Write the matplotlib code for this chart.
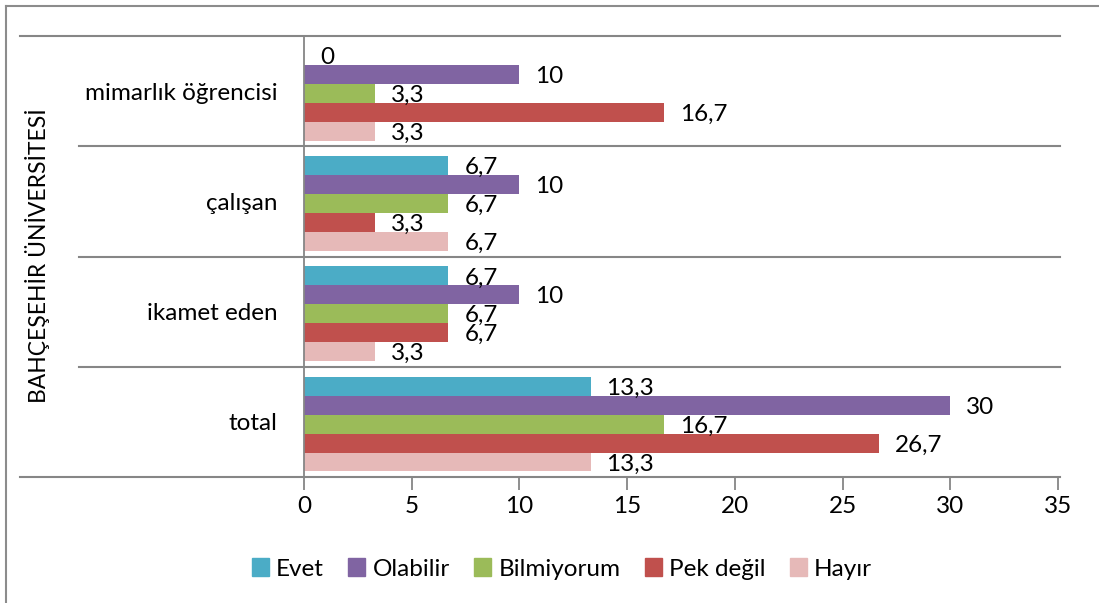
import matplotlib.pyplot as plt
from matplotlib.lines import Line2D
from matplotlib.patches import Patch
import matplotlib.transforms as mtransforms

plt.rcParams['font.family'] = ['Lato', 'DejaVu Sans']

categories = ['total', 'ikamet eden', 'çalışan', 'mimarlık öğrencisi']
series = ['Evet', 'Olabilir', 'Bilmiyorum', 'Pek değil', 'Hayır']
colors = ['#4BACC6', '#8064A2', '#9BBB59', '#C0504D', '#E6B9B8']
evet = [13.3, 6.7, 6.7, 0]
olabilir = [30, 10, 10, 10]
bilmiyorum = [16.7, 6.7, 6.7, 3.3]
pek_degil = [26.7, 6.7, 3.3, 16.7]
hayir = [13.3, 3.3, 6.7, 3.3]
values = [evet, olabilir, bilmiyorum, pek_degil, hayir]
group_label = 'BAHÇEŞEHİR ÜNİVERSİTESİ'

W, H = 1099, 603
fig = plt.figure(figsize=(W / 100, H / 100), dpi=100)
x0, x1, y0, y1 = 304, 1058, 36, 477
ax = fig.add_axes([x0 / W, 1 - y1 / H, (x1 - x0) / W, (y1 - y0) / H])

fs = 17.5
h = 0.172
grid_c = '#868686'
for i, (name, vals, c) in enumerate(zip(series, values, colors)):
    ys = [k + (2 - i) * h - 0.02 for k in range(len(categories))]
    ax.barh(ys, vals, height=h, color=c, label=name)
    for y, v in zip(ys, vals):
        txt = f'{v:g}'.replace('.', ',')
        ax.annotate(txt, (v, y), xytext=(16, -2), textcoords='offset pixels',
                    va='center', ha='left', fontsize=fs)

ax.set_xlim(0, 35)
ax.set_ylim(-0.5, len(categories) - 0.5)
ax.set_xticks(range(0, 36, 5))
ax.set_yticks([k - 0.5 for k in range(len(categories) + 1)])
ax.set_yticklabels([])
ax.set_yticks(range(len(categories)), categories, minor=True)
ax.tick_params(axis='y', which='minor', length=0, pad=19, labelsize=fs)
ax.tick_params(axis='y', which='major', length=4, width=1.3, color=grid_c)
ax.tick_params(axis='x', length=9, width=1.3, color=grid_c, labelsize=fs, pad=5)
for s in ['top', 'right', 'bottom']:
    ax.spines[s].set_visible(False)
ax.spines['left'].set_color(grid_c)
ax.spines['left'].set_linewidth(1.3)

# category separators spanning the label area
tr = mtransforms.blended_transform_factory(ax.transAxes, ax.transData)
for k in range(len(categories) + 1):
    yb = k - 0.5
    xs = -0.377 if k in (0, len(categories)) else -0.298
    ax.add_line(Line2D([xs, 1.003], [yb, yb], transform=tr, color=grid_c,
                       lw=1.5, clip_on=False))

fig.text(38 / W, 1 - 256 / H, group_label, rotation=90, ha='center',
         va='center', fontsize=16.5)

handles = [Patch(color=c, label=n) for n, c in zip(series, colors)]
fig.legend(handles=handles, loc='center', bbox_to_anchor=(562 / W, 1 - 569 / H),
           ncol=5, frameon=False, fontsize=fs, handlelength=0.7,
           handleheight=0.7, handletextpad=0.3, columnspacing=1.0)

# outer chart frame (cropped)
fig.add_artist(Line2D([6 / W, 6 / W], [0, 1 - 6 / H], color='#8c8c8c', lw=1.5))
fig.add_artist(Line2D([6 / W, 1], [1 - 6 / H, 1 - 6 / H], color='#8c8c8c', lw=1.5))

fig.savefig('out.png', dpi=100)
